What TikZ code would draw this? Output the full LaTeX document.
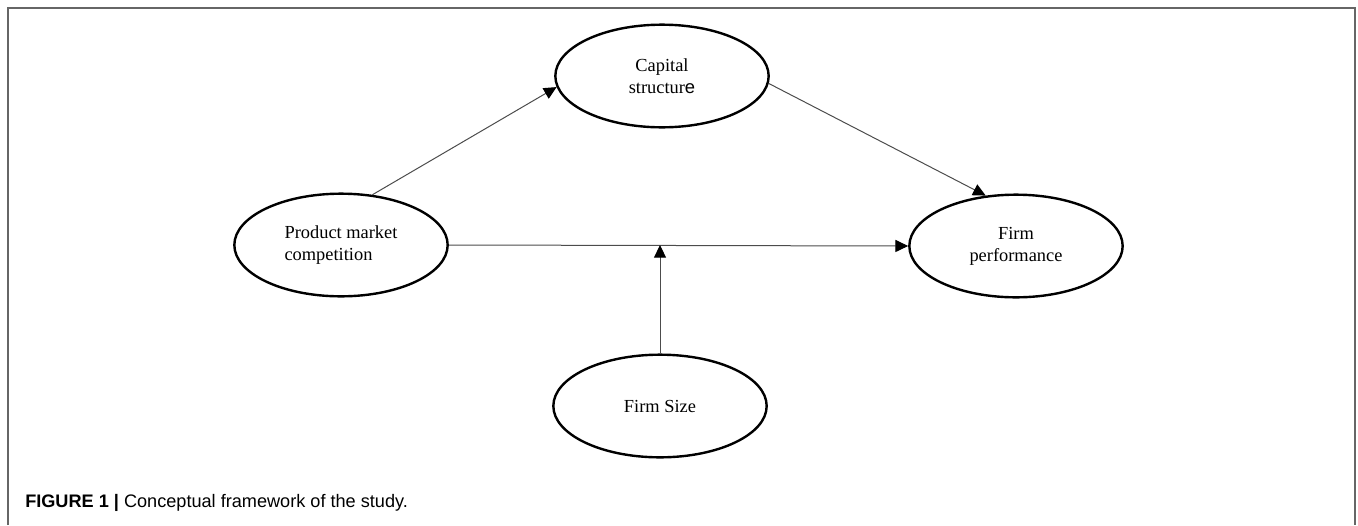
\documentclass[tikz,border=0pt]{standalone}
\usepackage{fontspec}
\setmainfont{Liberation Serif}
\newfontfamily\capfont{Liberation Sans}
\usetikzlibrary{shapes.geometric,arrows.meta}

\begin{document}
\begin{tikzpicture}[x=0.75pt,y=0.75pt,yscale=-1,xscale=1,
        construct/.style={ellipse,draw=black,line width=1.8pt,minimum width=160pt,minimum height=77pt,inner sep=0pt,font=\fontsize{13.8}{16.5}\selectfont,align=center},
        link/.style={draw=black!70,line width=0.75pt,-{Triangle[length=9.5pt,width=9pt,black]}}]
        \useasboundingbox (0,0) rectangle (1358,525);
        \draw[black!60,line width=1.1pt] (8,525) -- (8,8) -- (1355,8) -- (1355,525);

        \node[construct] (cap) at (662,76) {Capital\\structur{\capfont e}};
        \node[construct,align=left] (pmc) at (341,245) {Product market\\competition};
        \node[construct] (perf) at (1016,246) {Firm\\performance};
        \node[construct] (size) at (660,406) {Firm Size};

        \draw[link] (pmc.58) -- (cap.186);
        \draw[link] (cap.-4) -- (perf.121);
        \draw[link] (pmc.east) -- (perf.west);
        \draw[link] (size.north) -- (size.north |- pmc.east);

        \node[anchor=base west,inner sep=0pt,font=\capfont\fontsize{13.6}{16}\selectfont] (caption) at (25,507) {\textbf{FIGURE 1 |} Conceptual framework of the study.};
    \end{tikzpicture}
\end{document}
